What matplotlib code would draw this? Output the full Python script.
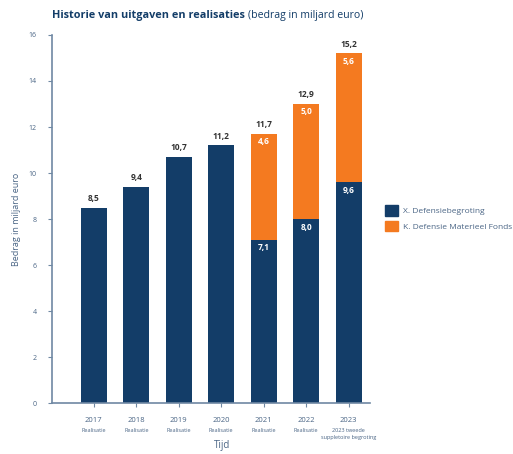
import matplotlib
matplotlib.use("Agg")
import matplotlib.pyplot as plt
from matplotlib.patches import Patch

# Data (miljard euro)
years = ["2017", "2018", "2019", "2020", "2021", "2022", "2023"]
sublabels = ["Realisatie", "Realisatie", "Realisatie", "Realisatie",
             "Realisatie", "Realisatie", "2023 tweede\nsuppletoire begroting"]
defensie = [8.5, 9.4, 10.7, 11.2, 7.1, 8.0, 9.6]
dmf = [0.0, 0.0, 0.0, 0.0, 4.6, 5.0, 5.6]
totals = [8.5, 9.4, 10.7, 11.2, 11.7, 12.9, 15.2]

NAVY = "#133d68"
ORANGE = "#f47a20"
AXIS = "#6f88a3"
TEXT = "#4a6585"

plt.rcParams["font.family"] = ["Open Sans", "DejaVu Sans"]

fig = plt.figure(figsize=(5.13, 4.54), dpi=100)
ax = fig.add_axes([0.101, 0.112, 0.62, 0.811])

x = range(len(years))
w = 0.61
ax.bar(x, defensie, width=w, color=NAVY)
ax.bar(x, dmf, width=w, bottom=defensie, color=ORANGE)

fmt = lambda v: f"{v:.1f}".replace(".", ",")
for i in x:
    top = defensie[i] + dmf[i]
    ax.text(i, top + 0.2, fmt(totals[i]), ha="center", va="bottom",
            fontsize=6, color="#333333", fontweight="bold")
    if dmf[i] > 0:
        ax.text(i, defensie[i] - 0.15, fmt(defensie[i]), ha="center", va="top",
                fontsize=6, color="white", fontweight="bold")
        ax.text(i, top - 0.15, fmt(dmf[i]), ha="center", va="top",
                fontsize=6, color="white", fontweight="bold")

ax.set_xlim(-0.99, 6.5)
ax.set_ylim(0, 16)
ax.set_yticks(range(0, 17, 2))
ax.tick_params(axis="y", labelsize=5, colors=AXIS, length=3, width=0.8,
               labelcolor=TEXT, pad=8)
ax.set_xticks(list(x))
ax.set_xticklabels([""] * len(years))
ax.tick_params(axis="x", colors=AXIS, length=3, width=0.8, direction="out")
for i in x:
    ax.text(i, -0.6, years[i], ha="center", va="top", fontsize=5.5, color=TEXT)
    ax.text(i, -1.1, sublabels[i], ha="center", va="top", fontsize=4,
            color=TEXT, linespacing=1.4)

for s in ["top", "right"]:
    ax.spines[s].set_visible(False)
for s in ["left", "bottom"]:
    ax.spines[s].set_color(AXIS)
    ax.spines[s].set_linewidth(1.2)

ax.set_ylabel("Bedrag in miljard euro", fontsize=6.5, color=TEXT, labelpad=5)
fig.text(0.433, 0.018, "Tijd", ha="center", va="center", fontsize=7, color=TEXT)

# title: bold part followed by normal part on the same line
t1 = fig.text(0.101, 0.965, "Historie van uitgaven en realisaties", fontsize=7.8,
              fontweight="bold", color=NAVY, ha="left", va="center")
fig.canvas.draw()
bb = t1.get_window_extent().transformed(fig.transFigure.inverted())
fig.text(bb.x1 + 0.006, 0.965, "(bedrag in miljard euro)", fontsize=7.6,
         color=NAVY, ha="left", va="center")

handles = [Patch(color=NAVY, label="X. Defensiebegroting"),
           Patch(color=ORANGE, label="K. Defensie Materieel Fonds")]
fig.legend(handles=handles, loc="upper left", bbox_to_anchor=(0.735, 0.565),
           frameon=False, fontsize=6, labelcolor=TEXT, handlelength=1.6,
           handleheight=1.6, handletextpad=0.6, labelspacing=0.6)

fig.savefig("out.png", dpi=100)
